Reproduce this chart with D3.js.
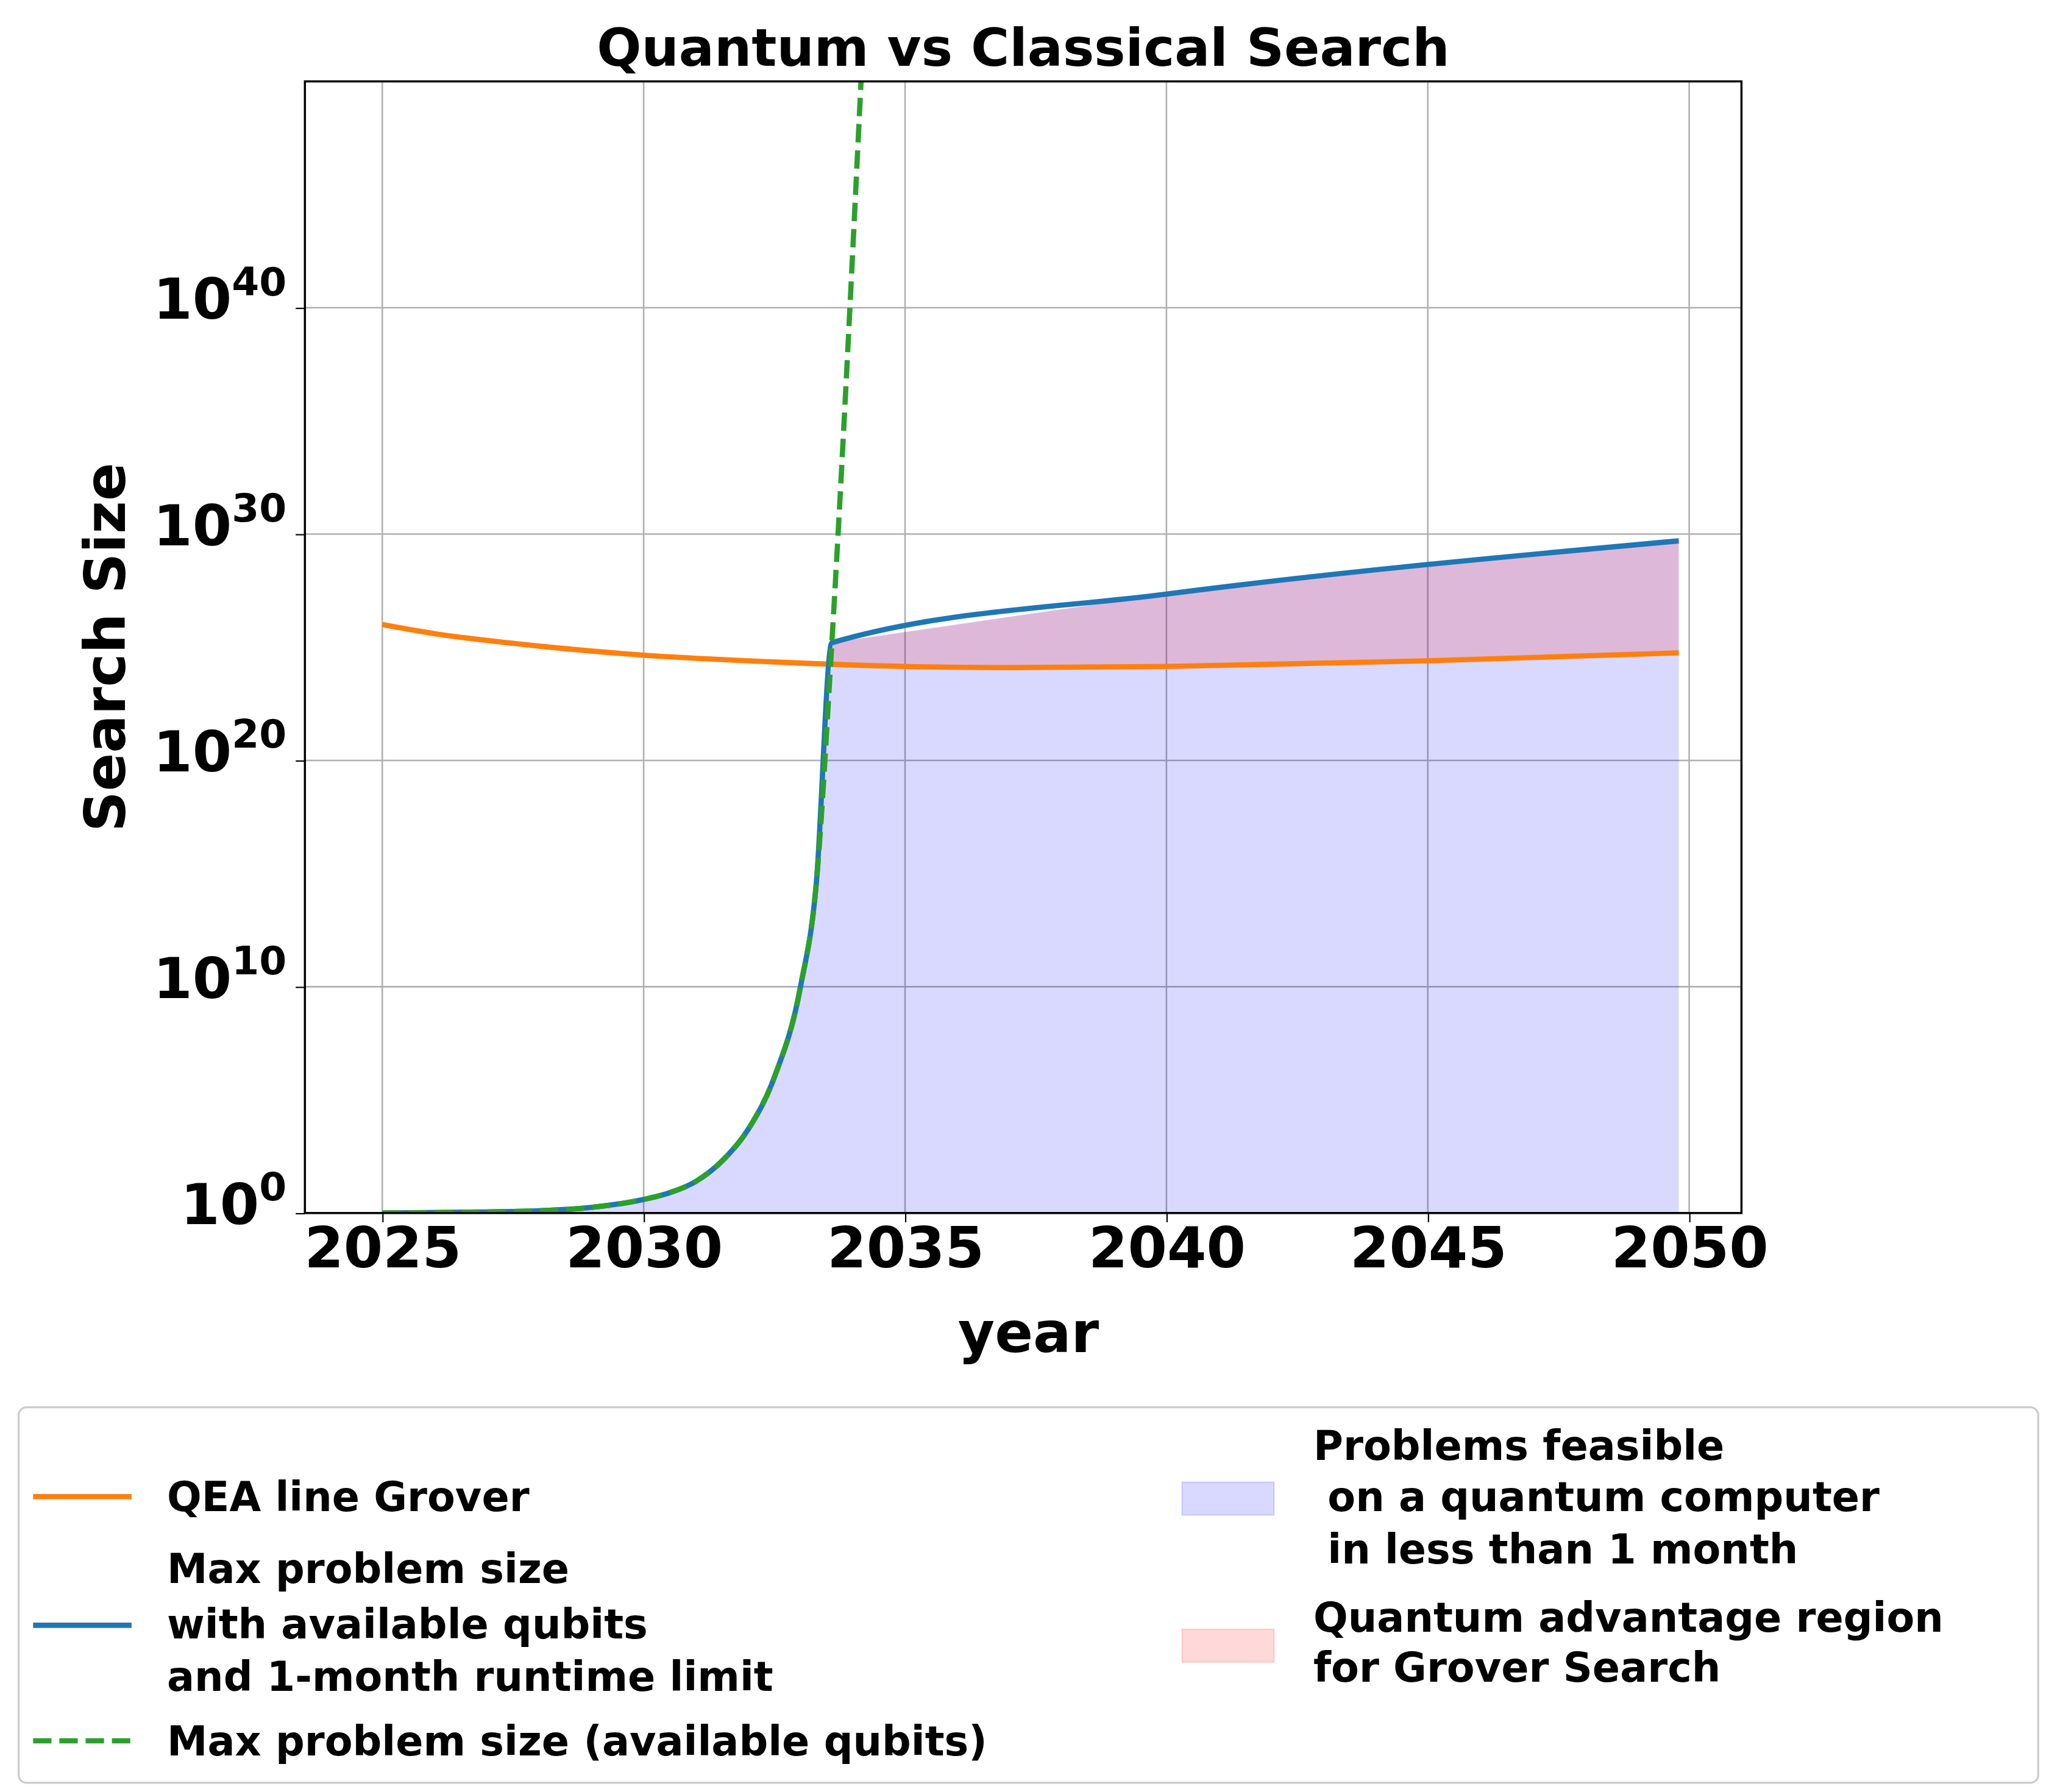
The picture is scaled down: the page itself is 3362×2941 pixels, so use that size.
<!DOCTYPE html>
<html><head><meta charset="utf-8">
<script src="https://cdn.jsdelivr.net/npm/d3@7"></script>
<style>body{margin:0;background:#fff} text{font-family:"DejaVu Sans";font-weight:bold}</style>
</head><body><div id="chart"></div>
<script>
// values: year, log10(search size)
const qeaYears = [2025, 2026, 2027, 2028, 2030, 2032, 2035, 2037, 2040, 2043, 2045, 2049.8]
const qeaLog = [26.0, 25.6, 25.3, 25.05, 24.65, 24.4, 24.15, 24.1, 24.15, 24.3, 24.4, 24.75]
const qubitYears = [2025, 2027, 2028, 2029, 2030, 2030.5, 2031, 2031.5, 2032, 2032.5, 2033, 2033.3, 2033.6, 2034.2]
const qubitLog = [0, 0.05, 0.1, 0.25, 0.6, 0.9, 1.4, 2.3, 3.7, 6.0, 10.0, 14.5, 25.2, 52]
const blueYears = [2025, 2027, 2028, 2029, 2030, 2030.5, 2031, 2031.5, 2032, 2032.5, 2033, 2033.3, 2033.6, 2040, 2049.8]
const blueLog = [0, 0.05, 0.1, 0.25, 0.6, 0.9, 1.4, 2.3, 3.7, 6.0, 10.0, 14.5, 25.2, 27.35, 29.7]
const xTicks = [2025, 2030, 2035, 2040, 2045, 2050]
const yTicks = [0, 10, 20, 30, 40]

const W = 1560, H = 1365
const m = {left: 232, right: 1326, top: 62, bottom: 924}
const svg = d3.select("#chart").append("svg").attr("width", 3362).attr("height", 2941)
  .attr("viewBox", `0 0 ${W} ${H}`)

const x = d3.scaleLinear().domain([2023.52, 2051.0]).range([m.left, m.right])
const y = d3.scaleLinear().domain([0, 50]).range([m.bottom, m.top])

const clip = svg.append("clipPath").attr("id", "c").append("rect")
  .attr("x", m.left).attr("y", m.top).attr("width", m.right - m.left).attr("height", m.bottom - m.top)

// grid
const grid = svg.append("g").attr("stroke", "#b0b0b0").attr("stroke-width", 1.2)
xTicks.forEach(t => grid.append("line").attr("x1", x(t)).attr("x2", x(t)).attr("y1", m.top).attr("y2", m.bottom))
yTicks.forEach(t => grid.append("line").attr("y1", y(t)).attr("y2", y(t)).attr("x1", m.left).attr("x2", m.right))

const qea = d3.interpolateArray ? null : null
const interp = (xs, ys, v) => {
  for (let i = 1; i < xs.length; i++) if (v <= xs[i]) {
    const f = (v - xs[i-1]) / (xs[i] - xs[i-1]); return ys[i-1] + f * (ys[i] - ys[i-1]) }
  return ys[ys.length - 1]
}
const blueData = blueYears.map((d, i) => ({yr: d, v: blueLog[i]}))
const g = svg.append("g").attr("clip-path", "url(#c)")

// feasible region
g.append("path").datum(blueData)
  .attr("d", d3.area().x(d => x(d.yr)).y0(y(0)).y1(d => y(d.v)))
  .attr("fill", "#0000ff").attr("fill-opacity", 0.15)

// advantage region between orange and blue
const adv = []
for (let yr = 2033.55; yr <= 2049.8001; yr += 0.05) {
  const b = interp(blueYears, blueLog, yr), o = interp(qeaYears, qeaLog, yr)
  if (b > o) adv.push({yr, b, o})
}
g.append("path").datum(adv)
  .attr("d", d3.area().x(d => x(d.yr)).y0(d => y(d.o)).y1(d => y(d.b)))
  .attr("fill", "#ff0000").attr("fill-opacity", 0.15)

const line = d3.line().x(d => x(d.yr)).y(d => y(d.v)).curve(d3.curveMonotoneX)
g.append("path").datum(qeaYears.map((d, i) => ({yr: d, v: qeaLog[i]})))
  .attr("d", line).attr("fill", "none").attr("stroke", "#ff7f0e").attr("stroke-width", 4)
g.append("path").datum(blueData)
  .attr("d", d3.line().x(d => x(d.yr)).y(d => y(d.v)).curve(d3.curveMonotoneX))
  .attr("fill", "none").attr("stroke", "#1f77b4").attr("stroke-width", 4)
g.append("path").datum(qubitYears.map((d, i) => ({yr: d, v: qubitLog[i]})))
  .attr("d", line).attr("fill", "none").attr("stroke", "#2ca02c").attr("stroke-width", 4)
  .attr("stroke-dasharray", "14,6")

// frame
svg.append("rect").attr("x", m.left).attr("y", m.top).attr("width", m.right - m.left)
  .attr("height", m.bottom - m.top).attr("fill", "none").attr("stroke", "#000").attr("stroke-width", 1.6)

// axes
const xAxis = svg.append("g").attr("transform", `translate(0,${m.bottom})`)
  .call(d3.axisBottom(x).tickValues(xTicks).tickFormat(d3.format("d")).tickSize(7).tickPadding(4))
xAxis.select(".domain").remove()
xAxis.selectAll("text").attr("font-size", 43).attr("font-family", "DejaVu Sans").attr("font-weight", "bold").attr("fill", "#000")
const yAxis = svg.append("g").attr("transform", `translate(${m.left},0)`)
  .call(d3.axisLeft(y).tickValues(yTicks).tickFormat("").tickSize(7))
yAxis.select(".domain").remove()
yAxis.selectAll(".tick").append("text").attr("x", -14).attr("dy", 8).attr("text-anchor", "end")
  .attr("fill", "#000").attr("font-size", 43)
  .each(function(d) {
    const t = d3.select(this)
    t.append("tspan").text("10")
    t.append("tspan").attr("dy", -18).attr("font-size", 30).text(d)
  })

svg.append("text").attr("x", (m.left + m.right) / 2).attr("y", 50).attr("text-anchor", "middle")
  .attr("font-size", 40).text("Quantum vs Classical Search")
svg.append("text").attr("x", 783).attr("y", 1030).attr("text-anchor", "middle").attr("font-size", 43).text("year")
svg.append("text").attr("transform", `translate(95,${(m.top + m.bottom) / 2}) rotate(-90)`)
  .attr("text-anchor", "middle").attr("font-size", 43).text("Search Size")

// legend
const lg = svg.append("g")
lg.append("rect").attr("x", 14).attr("y", 1072).attr("width", 1538).attr("height", 286).attr("rx", 6)
  .attr("fill", "#fff").attr("stroke", "#ccc").attr("stroke-width", 1.5)
const fs = 31
const addText = (xx, ys, lines) => lines.forEach((l, i) =>
  lg.append("text").attr("x", xx).attr("y", ys[i]).attr("font-size", fs).attr("dy", 11).attr("xml:space", "preserve").text(l))
lg.append("line").attr("x1", 25).attr("x2", 100).attr("y1", 1140).attr("y2", 1140).attr("stroke", "#ff7f0e").attr("stroke-width", 4)
addText(127, [1140], ["QEA line Grover"])
lg.append("line").attr("x1", 25).attr("x2", 100).attr("y1", 1238).attr("y2", 1238).attr("stroke", "#1f77b4").attr("stroke-width", 4)
addText(127, [1195, 1237, 1277], ["Max problem size", "with available qubits", "and 1-month runtime limit"])
lg.append("line").attr("x1", 25).attr("x2", 100).attr("y1", 1326).attr("y2", 1326).attr("stroke", "#2ca02c").attr("stroke-width", 4).attr("stroke-dasharray", "14,6")
addText(127, [1326], ["Max problem size (available qubits)"])
lg.append("rect").attr("x", 900).attr("y", 1129).attr("width", 70).attr("height", 25)
  .attr("fill", "#0000ff").attr("fill-opacity", 0.15).attr("stroke", "#0000ff").attr("stroke-opacity", 0.15)
addText(1000, [1101, 1140, 1180], ["Problems feasible", " on a quantum computer", " in less than 1 month"])
lg.append("rect").attr("x", 900).attr("y", 1241).attr("width", 70).attr("height", 25)
  .attr("fill", "#ff0000").attr("fill-opacity", 0.15).attr("stroke", "#ff0000").attr("stroke-opacity", 0.15)
addText(1000, [1232, 1270], ["Quantum advantage region", "for Grover Search"])
</script></body></html>
